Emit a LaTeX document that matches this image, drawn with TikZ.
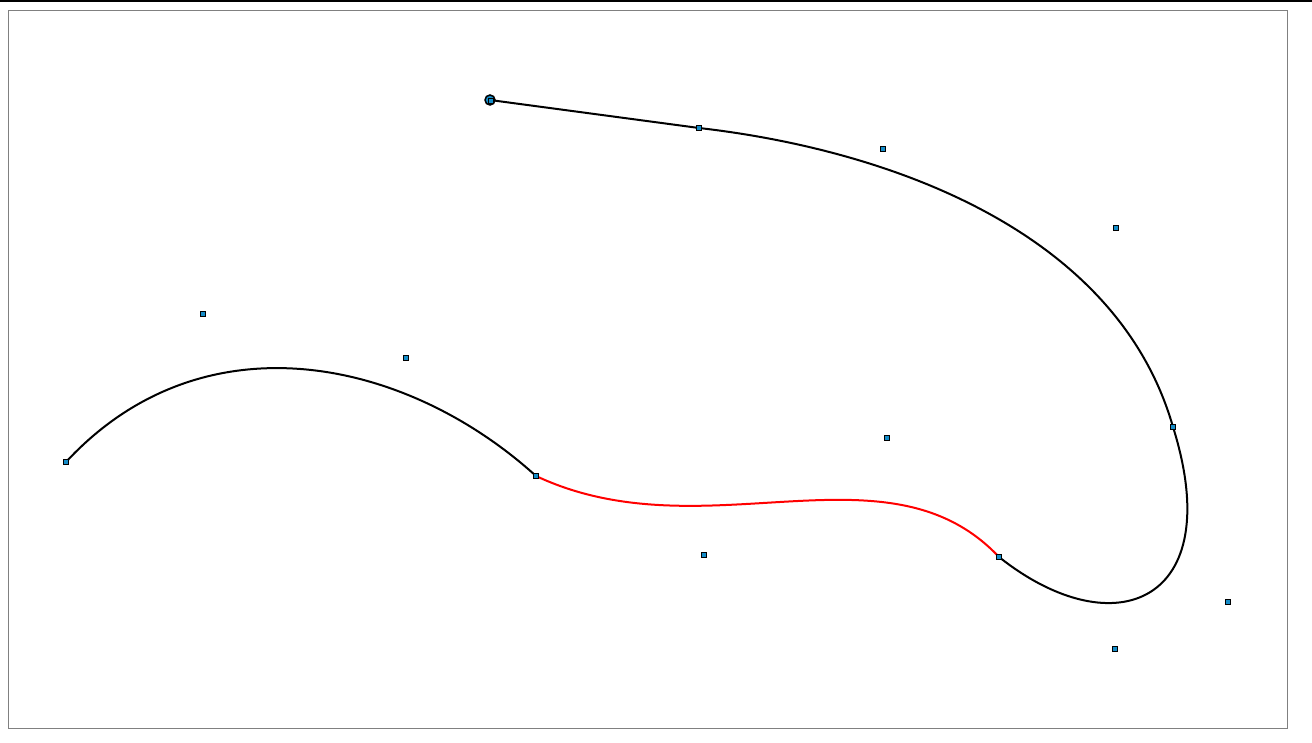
\documentclass[tikz,border=0pt]{standalone}
\begin{document}
\begin{tikzpicture}[x=1pt,y=-1pt,
  ctrl/.style={draw=black,fill=ptblue,rectangle,inner sep=0pt,minimum size=5.5pt,line width=1.4pt},
  startpt/.style={draw=black,fill=ptblue,circle,inner sep=0pt,minimum size=10pt,line width=1.5pt},
  curve/.style={line width=2pt,black},
  redcurve/.style={line width=2pt,red}]
\definecolor{ptblue}{RGB}{20,140,200}
\useasboundingbox (0,0) rectangle (1312,743);
\draw[black,line width=2pt] (0,1) -- (1312,1);
\draw[gray,line width=1pt] (8.5,10.5) rectangle (1287.5,728.5);
\coordinate (p0) at (490,100);
\coordinate (p1) at (699,128);
\coordinate (c1) at (883,149);
\coordinate (c2) at (1116,228);
\coordinate (p2) at (1173,427);
\coordinate (c3) at (1228,602);
\coordinate (c4) at (1115,649);
\coordinate (p3) at (999,557);
\coordinate (c5) at (887,438);
\coordinate (c6) at (704,555);
\coordinate (p4) at (536,476);
\coordinate (c7) at (406,358);
\coordinate (c8) at (203,314);
\coordinate (p5) at (66,462);
\draw[curve] (p0) -- (p1) .. controls (c1) and (c2) .. (p2) .. controls (c3) and (c4) .. (p3);
\draw[redcurve] (p3) .. controls (c5) and (c6) .. (p4);
\draw[curve] (p4) .. controls (c7) and (c8) .. (p5);
\node[startpt] (s0) at (p0) {};
\node[ctrl] (m0) at (491,101) {};
\foreach \n in {p1,c1,c2,p2,c3,c4,p3,c5,c6,p4,c7,c8,p5} {
  \node[ctrl] (m\n) at (\n) {};
}
\end{tikzpicture}
\end{document}
